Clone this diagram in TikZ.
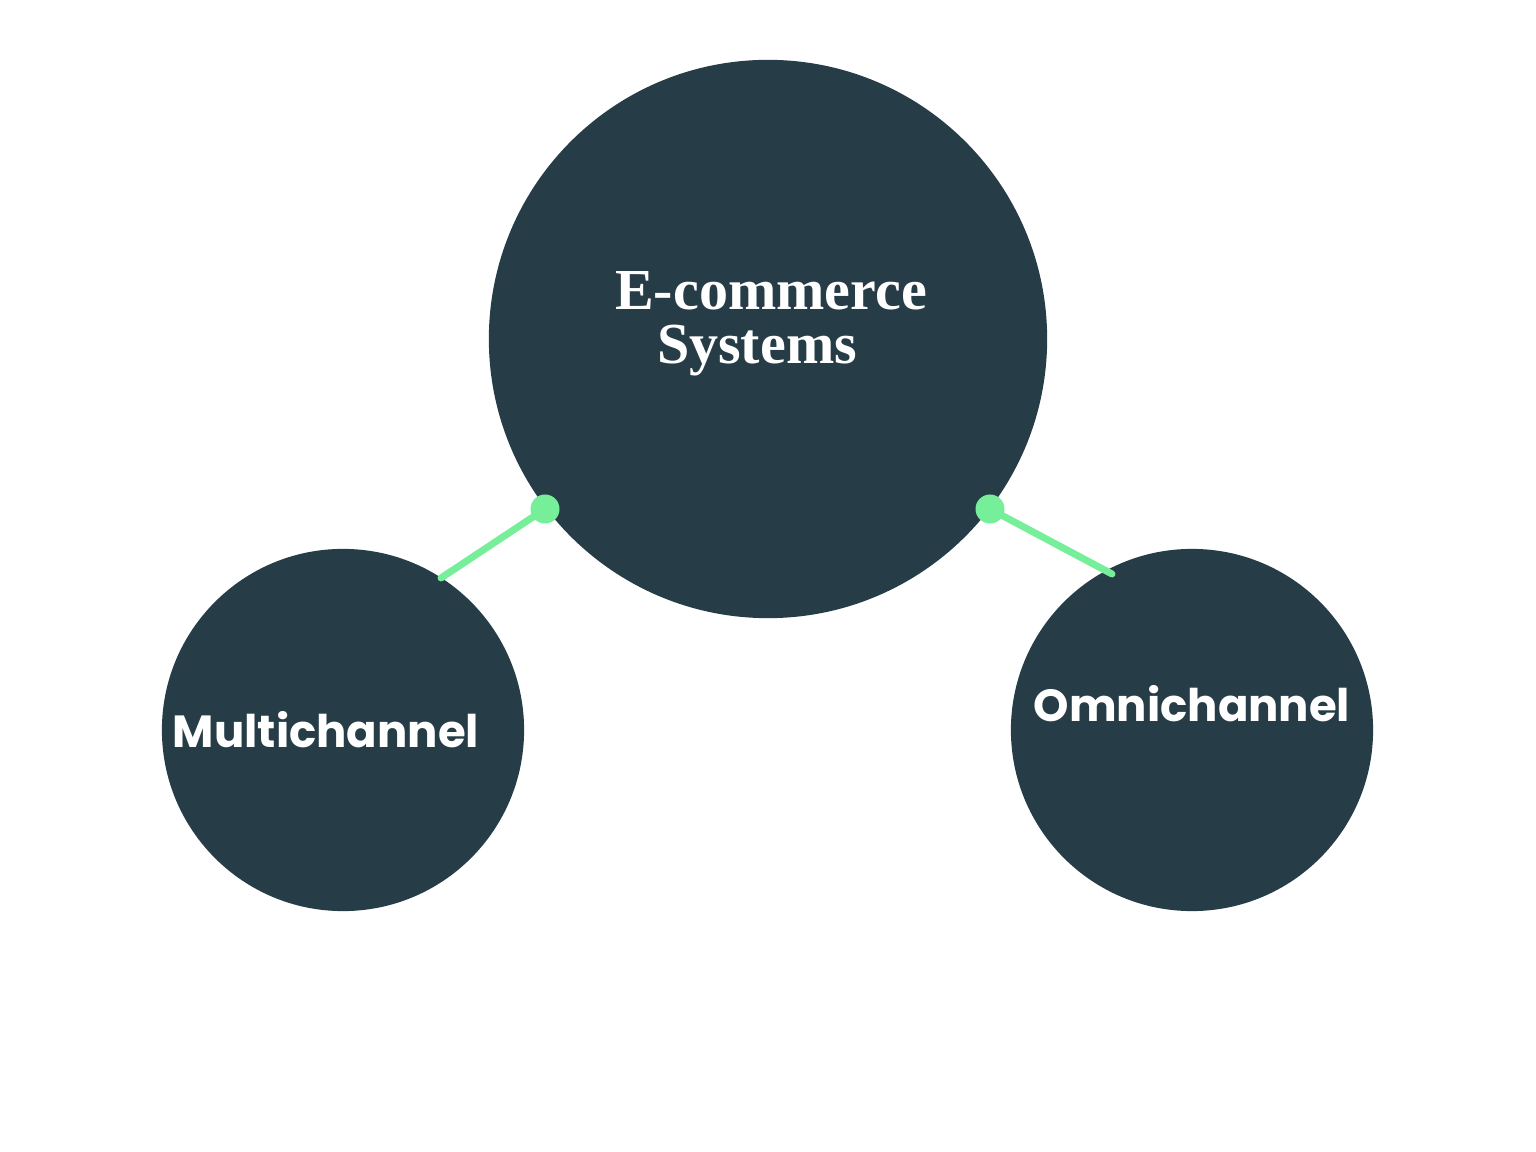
\documentclass[tikz,border=0pt]{standalone}
\usepackage{fontspec}
\usepackage{xcolor}
\newfontfamily\slabfont{Liberation Serif}
\newfontfamily\geofont{Poppins}
\definecolor{slate}{HTML}{263D47}
\definecolor{mint}{HTML}{77EE99}
\tikzset{
  bubble/.style={circle, fill=slate, inner sep=0pt},
  knob/.style={circle, fill=mint, inner sep=0pt, minimum size=0.29cm},
  stem/.style={mint, line width=0.07cm, line cap=round},
  bigtitle/.style={text=white, font=\slabfont\bfseries\fontsize{16.5}{16}\selectfont, anchor=base, inner sep=0pt},
  subtitle/.style={text=white, font=\geofont\bfseries\fontsize{12.8}{16}\selectfont, anchor=base, inner sep=0pt}
}

\begin{document}
\begin{tikzpicture}[x=0.01cm,y=-0.01cm]
            \useasboundingbox (0,0) rectangle (1536,1152);

            \node[bubble, minimum size=5.58cm] (core) at (768,339) {};
            \node[bubble, minimum size=3.62cm] (multi) at (343,730) {};
            \node[bubble, minimum size=3.62cm] (omni) at (1192,730) {};

            \node[bigtitle] (coretop) at (771,310) {E-commerce};
            \node[bigtitle] (corebottom) at (757,364) {Systems};
            \node[subtitle] (multitext) at (326,747) {Multichannel};
            \node[subtitle] (omnitext) at (1192,721) {Omnichannel};

            \node[knob] (leftknob) at (545,509) {};
            \node[knob] (rightknob) at (990,509) {};
            \coordinate (leftend) at (441,578);
            \coordinate (rightend) at (1112,574);

            \draw[stem] (leftknob.center) -- (leftend);
            \draw[stem] (rightknob.center) -- (rightend);
        \end{tikzpicture}
\end{document}
